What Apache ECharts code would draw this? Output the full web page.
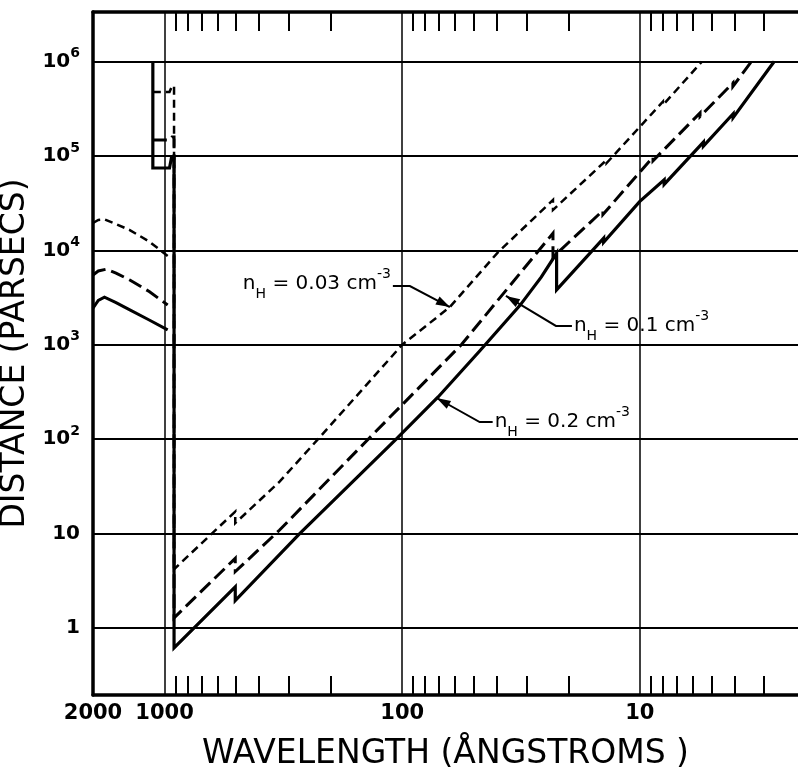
<!DOCTYPE html>
<html>
<head>
<meta charset="utf-8">
<script src="https://cdn.jsdelivr.net/npm/echarts@6/dist/echarts.min.js"></script>
<style>
  html, body { margin: 0; padding: 0; background: #fff; }
  #main { width: 798px; height: 777px; }
</style>
</head>
<body>
<div id="main"></div>
<script>
// axis ranges (wavelength runs right to left)
var xMin = 2.16, xMax = 2000
var yMin = 0.195, yMax = 3.35e6
var xLabelValues = [2000, 1000, 100, 10]
var xMinorTicks = [900, 800, 700, 600, 500, 400, 300, 200,
    90, 80, 70, 60, 50, 40, 30, 20,
    9, 8, 7, 6, 5, 4, 3]

// n_H = 0.03 cm^-3  (short dashes)
var hump003 = [[2000, 19500], [1900, 21000], [1790, 21300], [1600, 19000], [1400, 16400], [1160, 12400], [970, 8730]]
var main003 = [[1120, 476000], [953, 476000], [930, 552000], [912, 552000], [912, 4.19],
    [504, 17.1], [504, 12.9], [328, 35.5], [226, 100], [100, 1000], [63, 2510], [39.9, 9310],
    [23.2, 34200], [23.2, 26800], [13.8, 90700], [13.8, 84000], [8.0, 376000], [8.0, 345000], [5.48, 1e6]]

// n_H = 0.1 cm^-3  (long dashes)
var hump01 = [[2000, 5490], [1900, 6050], [1760, 6310], [1600, 5750], [1400, 4850], [1160, 3660], [970, 2640]]
var main01 = [[1120, 147600], [953, 147600], [930, 159000], [912, 159000], [912, 1.28],
    [504, 5.47], [504, 3.95], [328, 10.9], [139, 100], [56.4, 1000],
    [23.2, 15200], [23.2, 8500], [14.3, 26400], [14.3, 24000], [8.8, 97600], [8.8, 89000],
    [5.58, 286000], [5.58, 262000], [4.06, 593000], [4.06, 545000], [3.39, 1e6]]

// n_H = 0.2 cm^-3  (solid)
var hump02 = [[2000, 2440], [1900, 2950], [1790, 3190], [1600, 2800], [1400, 2340], [1160, 1830], [970, 1440]]
var main02 = [[1120, 1e6], [1120, 74600], [953, 74600], [934, 97500], [912, 97500], [912, 0.614],
    [504, 2.72], [504, 1.95], [270, 10], [106, 100], [70.6, 280], [47.2, 860], [32, 2600], [26, 5200],
    [22.4, 9310], [22.4, 3810], [14.2, 13500], [14.2, 12200], [10, 33000],
    [7.9, 56000], [7.9, 50000], [5.4, 140000], [5.4, 127000], [4.05, 280000], [4.05, 255000], [2.72, 1e6]]

var FONT = 'DejaVu Sans'
var chart = echarts.init(document.getElementById('main'), null, { renderer: 'canvas' })

function lg(v) { return Math.log(v) / Math.LN10 }

// y labels as powers of ten
function yLabel(v) {
    var e = lg(v), n = Math.round(e)
    if (Math.abs(e - n) > 1e-6) return ''
    if (n === 0) return '{b|1}'
    if (n === 1) return '{b|10}'
    return '{b|10}{s|' + n + '}'
}

function seg(data, dash, width, z) {
    return {
        type: 'line',
        data: data,
        xAxisIndex: 0,
        yAxisIndex: 0,
        symbol: 'none',
        z: z,
        lineStyle: { color: '#000', width: width, type: dash, cap: 'butt', join: 'miter' }
    }
}

var dashShort = [8, 5], dashLong = [14, 6]

var option = {
    animation: false,
    backgroundColor: '#fff',
    grid: { left: 93, right: 0, top: 12, bottom: 82, containLabel: false, outerBoundsMode: 'none' },
    xAxis: [
        {
            type: 'log', logBase: 10, min: xMin, max: xMax, inverse: true, position: 'bottom',
            axisLine: { show: true, lineStyle: { color: '#000', width: 3.5 } },
            axisTick: { show: false },
            axisLabel: { show: false },
            splitLine: { show: true, showMinLine: false, showMaxLine: false, lineStyle: { color: '#000', width: 1.5 } },
            name: 'WAVELENGTH (ÅNGSTROMS )', nameLocation: 'middle', nameGap: 43,
            nameTextStyle: { fontFamily: FONT, fontSize: 33, color: '#000' }
        },
        {
            // minor ticks + labels at the bottom
            type: 'value', min: lg(xMin), max: lg(xMax), inverse: true, position: 'bottom',
            axisLine: { show: false },
            axisTick: { show: true, inside: true, length: 19, customValues: xMinorTicks.map(lg), lineStyle: { color: '#000', width: 2 } },
            axisLabel: {
                show: true, customValues: xLabelValues.map(lg), margin: 8,
                fontFamily: FONT, fontSize: 21, fontWeight: 'bold', color: '#000',
                formatter: function (v) { return String(Math.round(Math.pow(10, v))) }
            },
            splitLine: { show: false }
        },
        {
            // top frame with minor ticks
            type: 'value', min: lg(xMin), max: lg(xMax), inverse: true, position: 'top',
            axisLine: { show: true, lineStyle: { color: '#000', width: 3.5 } },
            axisTick: { show: true, inside: true, length: 19, customValues: xMinorTicks.map(lg), lineStyle: { color: '#000', width: 2 } },
            axisLabel: { show: false },
            splitLine: { show: false }
        }
    ],
    yAxis: {
        type: 'log', logBase: 10, min: yMin, max: yMax,
        axisLine: { show: true, lineStyle: { color: '#000', width: 3.5 } },
        axisTick: { show: false },
        splitLine: { show: true, lineStyle: { color: '#000', width: 2 } },
        axisLabel: {
            margin: 13, formatter: yLabel, color: '#000',
            rich: {
                b: { fontFamily: FONT, fontSize: 20, fontWeight: 'bold', color: '#000', lineHeight: 30, verticalAlign: 'middle' },
                s: { fontFamily: FONT, fontSize: 14, fontWeight: 'bold', color: '#000', lineHeight: 15, verticalAlign: 'top' }
            }
        },
        name: 'DISTANCE (PARSECS)', nameLocation: 'middle', nameGap: 45,
        nameTextStyle: { fontFamily: FONT, fontSize: 33, color: '#000' }
    },
    series: [
        seg(hump003, dashShort, 2.5, 2),
        seg(main003, dashShort, 2.5, 2),
        seg(hump01, dashLong, 3, 3),
        seg(main01, dashLong, 3, 3),
        seg(hump02, 'solid', 3, 4),
        seg(main02, 'solid', 3.2, 4)
    ]
}
chart.setOption(option)

// leader labels: arrow tip sits on the curve (data coords), rest in pixel offsets
var notes = [
    { val: '0.03', tip: [63, 2510], elbow: [-40, -21], run: -17, dy: -2 },
    { val: '0.1', tip: [36.6, 3290], elbow: [50, 30], run: 16, dy: 0 },
    { val: '0.2', tip: [71.6, 273], elbow: [43, 24], run: 13, dy: 0 }
]

var noteRich = {
    m: { fontFamily: FONT, fontSize: 20, fill: '#000', lineHeight: 34, verticalAlign: 'middle' },
    sub: { fontFamily: FONT, fontSize: 14, fill: '#000', lineHeight: 14, verticalAlign: 'bottom' },
    sup: { fontFamily: FONT, fontSize: 14, fill: '#000', lineHeight: 14, verticalAlign: 'top' }
}

function drawNotes() {
    var g = []
    notes.forEach(function (n) {
        var tip = chart.convertToPixel({ xAxisIndex: 0, yAxisIndex: 0 }, n.tip)
        var elbow = [tip[0] + n.elbow[0], tip[1] + n.elbow[1]]
        var end = [elbow[0] + n.run, elbow[1]]
        g.push({ type: 'polyline', shape: { points: [tip, elbow, end] }, style: { stroke: '#000', lineWidth: 2, fill: null }, z: 10 })
        var dx = elbow[0] - tip[0], dy = elbow[1] - tip[1], L = Math.sqrt(dx * dx + dy * dy)
        var ux = dx / L, uy = dy / L
        var b = [tip[0] + ux * 14, tip[1] + uy * 14]
        g.push({
            type: 'polygon', z: 11,
            shape: { points: [tip, [b[0] - uy * 4.5, b[1] + ux * 4.5], [b[0] + uy * 4.5, b[1] - ux * 4.5]] },
            style: { fill: '#000' }
        })
        g.push({
            type: 'text', z: 11,
            x: end[0] + (n.run > 0 ? 2 : -2), y: end[1] + n.dy,
            style: {
                text: '{m|n}{sub|H}{m| = ' + n.val + ' cm}{sup|-3}',
                rich: noteRich,
                align: n.run > 0 ? 'left' : 'right',
                verticalAlign: 'middle'
            }
        })
    })
    chart.setOption({ graphic: g })
}
drawNotes()
</script>
</body>
</html>
